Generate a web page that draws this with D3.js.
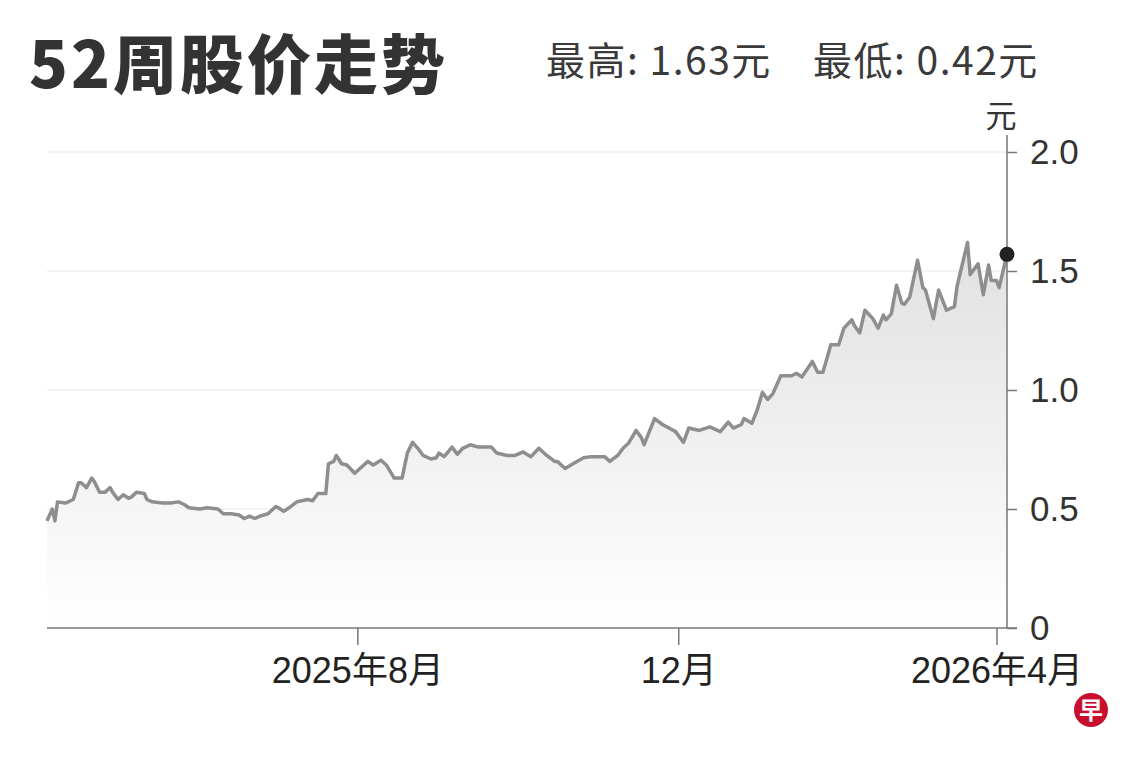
<!DOCTYPE html>
<html><head><meta charset="utf-8">
<script src="https://cdn.jsdelivr.net/npm/d3@7"></script>
<style>
html,body{margin:0;padding:0;background:#fff;}
svg{display:block;font-family:"Liberation Sans","Noto Sans CJK SC",sans-serif;}
</style></head>
<body><svg id="c" width="1140" height="760"></svg>
<script>
const dates = ["2025-04-05","2025-04-07","2025-04-08","2025-04-09","2025-04-12","2025-04-15","2025-04-17","2025-04-18","2025-04-20","2025-04-22","2025-04-23","2025-04-25","2025-04-27","2025-04-29","2025-04-30","2025-05-02","2025-05-04","2025-05-06","2025-05-07","2025-05-09","2025-05-12","2025-05-13","2025-05-15","2025-05-19","2025-05-22","2025-05-25","2025-05-27","2025-05-29","2025-06-02","2025-06-05","2025-06-09","2025-06-11","2025-06-14","2025-06-17","2025-06-19","2025-06-21","2025-06-23","2025-06-25","2025-06-28","2025-07-01","2025-07-02","2025-07-04","2025-07-06","2025-07-09","2025-07-13","2025-07-15","2025-07-17","2025-07-19","2025-07-20","2025-07-21","2025-07-23","2025-07-24","2025-07-26","2025-07-28","2025-07-31","2025-08-02","2025-08-05","2025-08-07","2025-08-10","2025-08-12","2025-08-15","2025-08-18","2025-08-20","2025-08-22","2025-08-24","2025-08-26","2025-08-29","2025-08-31","2025-09-01","2025-09-03","2025-09-06","2025-09-08","2025-09-10","2025-09-13","2025-09-16","2025-09-21","2025-09-23","2025-09-27","2025-09-30","2025-10-03","2025-10-06","2025-10-09","2025-10-12","2025-10-15","2025-10-16","2025-10-19","2025-10-22","2025-10-26","2025-10-29","2025-11-03","2025-11-05","2025-11-08","2025-11-10","2025-11-12","2025-11-15","2025-11-17","2025-11-18","2025-11-22","2025-11-25","2025-11-30","2025-12-03","2025-12-05","2025-12-09","2025-12-13","2025-12-17","2025-12-20","2025-12-22","2025-12-25","2025-12-26","2025-12-29","2025-12-31","2026-01-02","2026-01-04","2026-01-06","2026-01-09","2026-01-13","2026-01-15","2026-01-17","2026-01-21","2026-01-23","2026-01-25","2026-01-27","2026-01-28","2026-01-31","2026-02-02","2026-02-05","2026-02-06","2026-02-08","2026-02-10","2026-02-13","2026-02-15","2026-02-17","2026-02-18","2026-02-20","2026-02-22","2026-02-24","2026-02-25","2026-02-27","2026-03-02","2026-03-04","2026-03-05","2026-03-08","2026-03-10","2026-03-13","2026-03-16","2026-03-17","2026-03-21","2026-03-22","2026-03-25","2026-03-27","2026-03-29","2026-03-30","2026-04-01","2026-04-02","2026-04-05"];
const prices = [0.45,0.50,0.45,0.53,0.525,0.54,0.61,0.61,0.59,0.63,0.615,0.57,0.57,0.59,0.57,0.54,0.56,0.545,0.55,0.57,0.565,0.54,0.53,0.525,0.525,0.53,0.52,0.505,0.50,0.505,0.50,0.48,0.48,0.475,0.46,0.47,0.46,0.47,0.48,0.51,0.505,0.49,0.505,0.53,0.54,0.535,0.565,0.565,0.565,0.69,0.70,0.725,0.69,0.685,0.65,0.67,0.70,0.685,0.705,0.685,0.63,0.63,0.735,0.78,0.755,0.725,0.71,0.715,0.735,0.72,0.76,0.73,0.755,0.77,0.76,0.76,0.735,0.725,0.725,0.74,0.72,0.755,0.725,0.70,0.70,0.67,0.69,0.715,0.72,0.72,0.70,0.725,0.755,0.775,0.83,0.80,0.77,0.88,0.855,0.825,0.78,0.84,0.83,0.845,0.825,0.865,0.84,0.855,0.88,0.86,0.915,0.99,0.96,0.985,1.06,1.06,1.07,1.055,1.12,1.075,1.075,1.15,1.19,1.19,1.26,1.295,1.27,1.24,1.335,1.30,1.26,1.315,1.295,1.32,1.44,1.365,1.36,1.39,1.545,1.43,1.42,1.30,1.42,1.335,1.35,1.435,1.62,1.485,1.53,1.40,1.525,1.46,1.46,1.43,1.57];
const yTicks = [0, 0.5, 1.0, 1.5, 2.0];
const yTickLabels = ["0","0.5","1.0","1.5","2.0"];
const xTickDates = ["2025-08-01","2025-12-01","2026-04-01"];
const xTickLabels = ["2025年8月","12月","2026年4月"];
const titleText = "52周股价走势";
const highText = "最高: 1.63元";
const lowText = "最低: 0.42元";
const unitText = "元";

const parse = d3.timeParse("%Y-%m-%d");
const data = dates.map((d,i)=>({date:parse(d), v:prices[i]}));
const svg = d3.select("#c");
const pL=47, pR=1007, pT=152, pB=628;
const x = d3.scaleTime().domain([parse("2025-04-05"), parse("2026-04-05")]).range([pL,pR]);
const y = d3.scaleLinear().domain([0,2]).range([pB,pT]);

const defs = svg.append("defs");
const grad = defs.append("linearGradient").attr("id","ag").attr("gradientUnits","userSpaceOnUse")
  .attr("x1",0).attr("x2",0).attr("y1",y(1.65)).attr("y2",y(0));
grad.append("stop").attr("offset","0%").attr("stop-color","#e0e0e0");
grad.append("stop").attr("offset","100%").attr("stop-color","#ffffff");

// grid
svg.append("g").selectAll("line").data(yTicks.filter(t=>t>0)).join("line")
  .attr("x1",pL).attr("x2",pR).attr("y1",d=>y(d)).attr("y2",d=>y(d))
  .attr("stroke","#f3f3f3").attr("stroke-width",2);

// area
svg.append("path").datum(data)
  .attr("d", d3.area().x(d=>x(d.date)).y0(y(0)).y1(d=>y(d.v)))
  .attr("fill","url(#ag)");
// line
svg.append("path").datum(data)
  .attr("d", d3.line().x(d=>x(d.date)).y(d=>y(d.v)))
  .attr("fill","none").attr("stroke","#8e8e8e").attr("stroke-width",3.5).attr("stroke-linejoin","round");

// y axis
const yAxis = d3.axisRight(y).tickValues(yTicks).tickFormat((d,i)=>yTickLabels[i]).tickSize(10).tickPadding(13);
const gy = svg.append("g").attr("transform",`translate(${pR},0)`).call(yAxis);
gy.select(".domain").remove();
gy.selectAll(".tick line").attr("stroke","#777").attr("stroke-width",1.5);
gy.selectAll(".tick text").attr("fill","#333").attr("font-size",35).attr("font-family","Liberation Sans, Arial, sans-serif");
svg.append("line").attr("x1",pR).attr("x2",pR).attr("y1",135).attr("y2",pB).attr("stroke","#777").attr("stroke-width",1.5);

// x axis
const xAxis = d3.axisBottom(x).tickValues(xTickDates.map(parse)).tickFormat((d,i)=>xTickLabels[i]).tickSize(17).tickPadding(12);
const gx = svg.append("g").attr("transform",`translate(0,${pB})`).call(xAxis);
gx.select(".domain").remove();
gx.selectAll(".tick line").attr("stroke","#777").attr("stroke-width",1.5);
gx.selectAll(".tick text").attr("fill","#222").attr("font-size",36).attr("font-family","Liberation Sans, Noto Sans CJK SC, sans-serif");
svg.append("line").attr("x1",pL).attr("x2",pR+10).attr("y1",pB).attr("y2",pB).attr("stroke","#777").attr("stroke-width",1.5);

// last point dot
const last = data[data.length-1];
svg.append("circle").attr("cx",x(last.date)).attr("cy",y(last.v)).attr("r",7.5).attr("fill","#222");

// unit
svg.append("text").attr("x",1001).attr("y",127).attr("text-anchor","middle").attr("font-size",31).attr("fill","#333")
  .attr("font-family","Noto Sans CJK SC, sans-serif").text(unitText);

// title
svg.append("text").attr("x",29).attr("y",88).attr("font-size",64).attr("font-weight",900).attr("fill","#333")
  .attr("letter-spacing",3).attr("font-family","Noto Sans CJK SC, sans-serif").text(titleText);
svg.append("text").attr("x",546).attr("y",75).attr("font-size",39).attr("fill","#3a3a3a").attr("letter-spacing",1.5)
  .attr("font-family","Noto Sans CJK SC, sans-serif").text(highText);
svg.append("text").attr("x",813).attr("y",75).attr("font-size",39).attr("fill","#3a3a3a").attr("letter-spacing",1.5)
  .attr("font-family","Noto Sans CJK SC, sans-serif").text(lowText);

// logo
svg.append("circle").attr("cx",1091).attr("cy",710).attr("r",17).attr("fill","#c8102e");
svg.append("text").attr("x",1091).attr("y",719).attr("text-anchor","middle").attr("font-size",24).attr("font-weight",700)
  .attr("fill","#fff").attr("font-family","Noto Sans CJK SC, sans-serif").text("早");
</script></body></html>
